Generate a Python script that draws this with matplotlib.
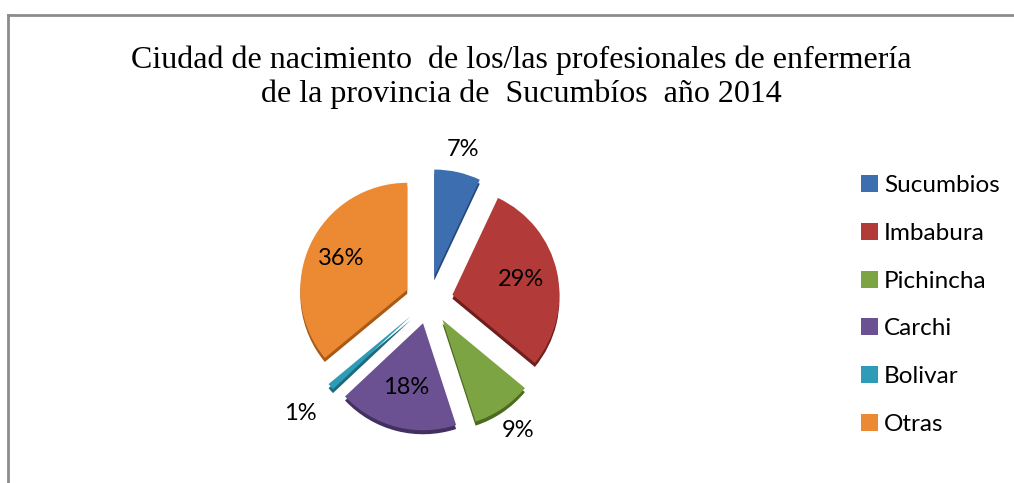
import matplotlib
matplotlib.use("Agg")
import matplotlib.pyplot as plt
import numpy as np

categories = ["Sucumbios", "Imbabura", "Pichincha", "Carchi", "Bolivar", "Otras"]
values = [7, 29, 9, 18, 1, 36]
pct_labels = ["7%", "29%", "9%", "18%", "1%", "36%"]
colors = ["#3d6fb0", "#b23b39", "#7da443", "#6b5192", "#2f9cb7", "#ec8a33"]
rim_colors = ["#24487a", "#6e1f1d", "#4c6a22", "#42305f", "#1c6a7d", "#a85a16"]
label_dist = [1.22, 0.66, 1.25, 0.62, 1.38, 0.68]

title = "Ciudad de nacimiento  de los/las profesionales de enfermería\nde la provincia de  Sucumbíos  año 2014"

W, H = 1014, 483
fig = plt.figure(figsize=(W / 100, H / 100), dpi=100)
fig.patch.set_facecolor("white")

# border
fig.add_artist(plt.Line2D([8 / W, 8 / W], [0, 1 - 15 / H], color="#8c8c8c", lw=2))
fig.add_artist(plt.Line2D([8 / W, 1], [1 - 15 / H, 1 - 15 / H], color="#8c8c8c", lw=2))

fig.text(521 / W, 1 - 77 / H, title, ha="center", va="center",
         fontfamily="Liberation Serif", fontsize=23, linespacing=1.22)

R = 107.0
cx, cy = 429, 300
half = 160
ax = fig.add_axes([(cx - half) / W, (H - cy - half) / H, 2 * half / W, 2 * half / H])
lim = half / R
ax.set_aspect("equal")
ax.axis("off")

explode = [24 / R] * len(values)
# rim / depth layer
ax.pie(values, explode=explode, colors=rim_colors, startangle=90, counterclock=False,
       radius=1.0, center=(0.0, -4 / R), wedgeprops=dict(linewidth=0))
wedges, _ = ax.pie(values, explode=explode, colors=colors, startangle=90, counterclock=False,
                   radius=1.0, center=(0.0, 0.0), wedgeprops=dict(linewidth=0))
ax.set_xlim(-lim, lim)
ax.set_ylim(-lim, lim)

for w, lab, d in zip(wedges, pct_labels, label_dist):
    ang = np.deg2rad((w.theta1 + w.theta2) / 2)
    cxw, cyw = w.center
    ax.text(cxw + d * np.cos(ang), cyw + d * np.sin(ang), lab, ha="center", va="center",
            fontfamily="Lato", fontsize=17, color="black")

leg = fig.legend(wedges, categories, loc="upper left", bbox_to_anchor=(849 / W, 1 - 163 / H),
                 frameon=False, prop=dict(family="Lato", size=17.5), handlelength=0.7,
                 handleheight=0.7, handletextpad=0.25, labelspacing=1.1, borderpad=0)

fig.savefig("out.png", dpi=100, facecolor="white")
